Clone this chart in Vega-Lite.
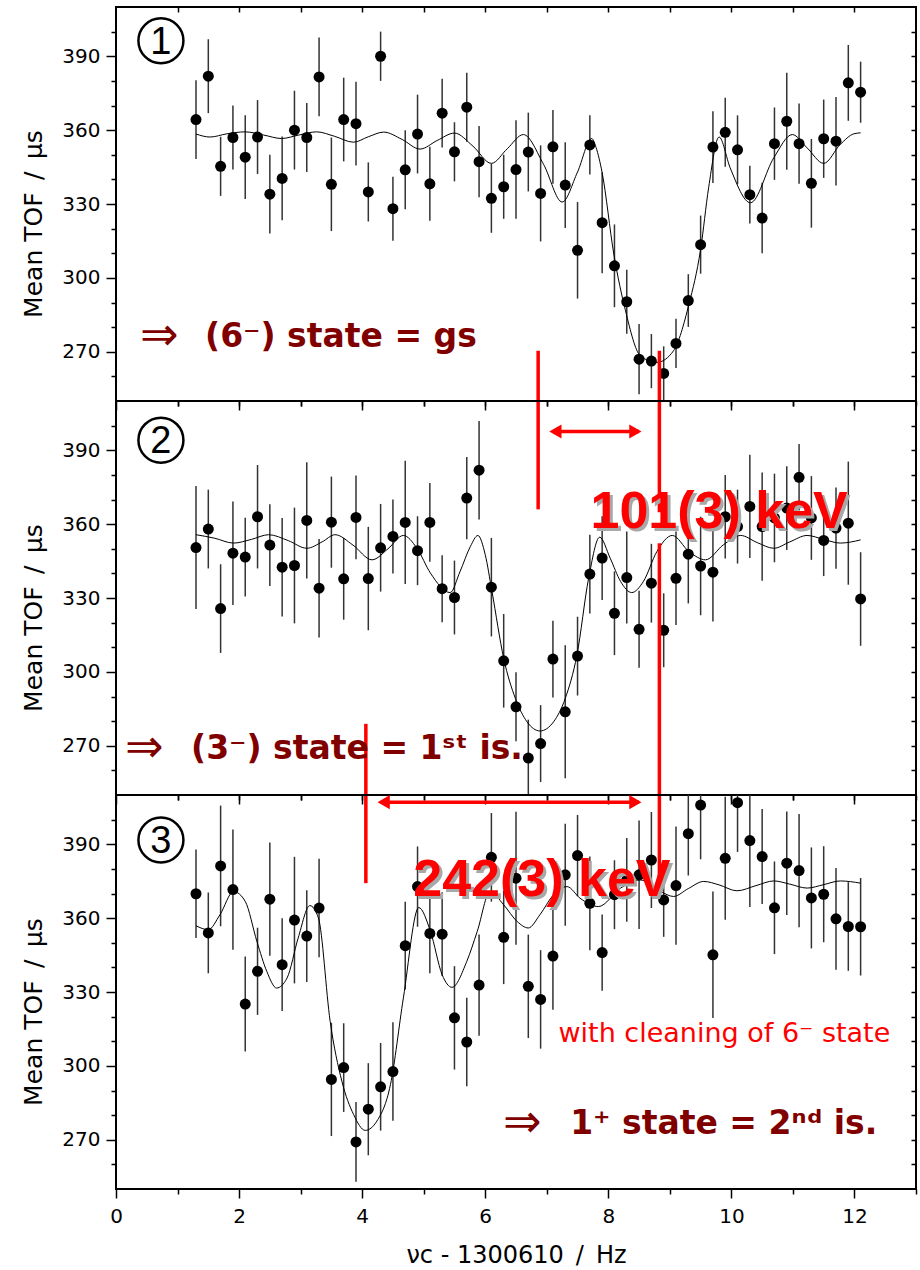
{
"$schema": "https://vega.github.io/schema/vega-lite/v6.json",
"background": "white",
"padding": {"left": 20, "top": 5, "right": 4, "bottom": 0},
"spacing": 0,
"bounds": "flush",
"config": {
  "view": {"stroke": "black", "strokeWidth": 2},
  "axis": {"domain": false, "grid": false, "tickColor": "black", "tickWidth": 1.5, "labelFont": "DejaVu Sans", "labelFontSize": 20, "labelColor": "black", "titleFont": "DejaVu Sans", "titleFontSize": 25, "titleFontWeight": "normal", "titleColor": "black", "labelFlush": false, "labelOverlap": false}
},
"datasets": {
  "pts": [
    {"panel":1,"x":1.3,"tof":364.3,"err":16},{"panel":1,"x":1.5,"tof":381.9,"err":15},{"panel":1,"x":1.7,"tof":345.3,"err":12},{"panel":1,"x":1.9,"tof":357.0,"err":13},{"panel":1,"x":2.1,"tof":349.0,"err":17},{"panel":1,"x":2.3,"tof":357.2,"err":15},{"panel":1,"x":2.5,"tof":334.0,"err":16},{"panel":1,"x":2.7,"tof":340.4,"err":17},{"panel":1,"x":2.9,"tof":360.0,"err":16},{"panel":1,"x":3.1,"tof":357.0,"err":14},{"panel":1,"x":3.3,"tof":381.6,"err":16},{"panel":1,"x":3.5,"tof":338.0,"err":19},{"panel":1,"x":3.7,"tof":364.3,"err":17},{"panel":1,"x":3.9,"tof":362.6,"err":17},{"panel":1,"x":4.1,"tof":334.9,"err":12},{"panel":1,"x":4.3,"tof":390.0,"err":10},{"panel":1,"x":4.5,"tof":328.1,"err":13},{"panel":1,"x":4.7,"tof":343.9,"err":16},{"panel":1,"x":4.9,"tof":358.4,"err":16},{"panel":1,"x":5.1,"tof":338.2,"err":15},{"panel":1,"x":5.3,"tof":366.9,"err":14},{"panel":1,"x":5.5,"tof":351.2,"err":12},{"panel":1,"x":5.7,"tof":369.3,"err":14},{"panel":1,"x":5.9,"tof":347.2,"err":14.5},{"panel":1,"x":6.1,"tof":332.3,"err":14},{"panel":1,"x":6.3,"tof":337.0,"err":13},{"panel":1,"x":6.5,"tof":344.0,"err":20},{"panel":1,"x":6.7,"tof":351.1,"err":16},{"panel":1,"x":6.9,"tof":334.3,"err":19.5},{"panel":1,"x":7.1,"tof":353.2,"err":15},{"panel":1,"x":7.3,"tof":337.7,"err":17.4},{"panel":1,"x":7.5,"tof":311.2,"err":19.6},{"panel":1,"x":7.7,"tof":354.0,"err":12},{"panel":1,"x":7.9,"tof":322.4,"err":20.5},{"panel":1,"x":8.1,"tof":304.9,"err":16.8},{"panel":1,"x":8.3,"tof":290.3,"err":13},{"panel":1,"x":8.5,"tof":267.0,"err":14.3},{"panel":1,"x":8.7,"tof":266.2,"err":11},{"panel":1,"x":8.9,"tof":261.2,"err":11},{"panel":1,"x":9.1,"tof":273.4,"err":10},{"panel":1,"x":9.3,"tof":290.8,"err":10.7},{"panel":1,"x":9.5,"tof":313.5,"err":11.8},{"panel":1,"x":9.7,"tof":353.1,"err":14.6},{"panel":1,"x":9.9,"tof":359.1,"err":14},{"panel":1,"x":10.1,"tof":352.0,"err":14},{"panel":1,"x":10.3,"tof":333.8,"err":11.7},{"panel":1,"x":10.5,"tof":324.3,"err":14.3},{"panel":1,"x":10.7,"tof":354.5,"err":14.7},{"panel":1,"x":10.9,"tof":363.6,"err":19.7},{"panel":1,"x":11.1,"tof":354.5,"err":16.3},{"panel":1,"x":11.3,"tof":338.4,"err":18},{"panel":1,"x":11.5,"tof":356.5,"err":15.9},{"panel":1,"x":11.7,"tof":355.5,"err":18},{"panel":1,"x":11.9,"tof":379.2,"err":15.4},{"panel":1,"x":12.1,"tof":375.4,"err":12.4},
    {"panel":2,"x":1.3,"tof":350.5,"err":25},{"panel":2,"x":1.5,"tof":358.0,"err":16},{"panel":2,"x":1.7,"tof":325.7,"err":18},{"panel":2,"x":1.9,"tof":348.2,"err":21},{"panel":2,"x":2.1,"tof":346.6,"err":16},{"panel":2,"x":2.3,"tof":363.0,"err":21},{"panel":2,"x":2.5,"tof":351.5,"err":16.6},{"panel":2,"x":2.7,"tof":342.5,"err":20},{"panel":2,"x":2.9,"tof":343.2,"err":23.5},{"panel":2,"x":3.1,"tof":361.5,"err":23.6},{"panel":2,"x":3.3,"tof":334.0,"err":20},{"panel":2,"x":3.5,"tof":360.8,"err":18.5},{"panel":2,"x":3.7,"tof":337.8,"err":16.6},{"panel":2,"x":3.9,"tof":362.7,"err":17},{"panel":2,"x":4.1,"tof":337.9,"err":21},{"panel":2,"x":4.3,"tof":350.4,"err":17.8},{"panel":2,"x":4.5,"tof":355.0,"err":15},{"panel":2,"x":4.7,"tof":360.7,"err":25},{"panel":2,"x":4.9,"tof":349.2,"err":14},{"panel":2,"x":5.1,"tof":360.7,"err":16},{"panel":2,"x":5.3,"tof":333.8,"err":13.6},{"panel":2,"x":5.5,"tof":330.2,"err":15},{"panel":2,"x":5.7,"tof":370.6,"err":16.7},{"panel":2,"x":5.9,"tof":381.9,"err":20},{"panel":2,"x":6.1,"tof":334.4,"err":20},{"panel":2,"x":6.3,"tof":304.5,"err":19},{"panel":2,"x":6.5,"tof":285.8,"err":14},{"panel":2,"x":6.7,"tof":265.0,"err":15.6},{"panel":2,"x":6.9,"tof":270.9,"err":15.6},{"panel":2,"x":7.1,"tof":305.2,"err":15.6},{"panel":2,"x":7.3,"tof":283.8,"err":27},{"panel":2,"x":7.5,"tof":306.4,"err":16},{"panel":2,"x":7.7,"tof":339.7,"err":16},{"panel":2,"x":7.9,"tof":346.2,"err":17},{"panel":2,"x":8.1,"tof":323.8,"err":17},{"panel":2,"x":8.3,"tof":338.3,"err":18.7},{"panel":2,"x":8.5,"tof":317.3,"err":15.6},{"panel":2,"x":8.7,"tof":336.0,"err":16},{"panel":2,"x":8.9,"tof":316.9,"err":15},{"panel":2,"x":9.1,"tof":338.0,"err":19},{"panel":2,"x":9.3,"tof":347.8,"err":20},{"panel":2,"x":9.5,"tof":343.0,"err":20},{"panel":2,"x":9.7,"tof":340.5,"err":20},{"panel":2,"x":9.9,"tof":363.0,"err":17},{"panel":2,"x":10.1,"tof":359.0,"err":15},{"panel":2,"x":10.3,"tof":367.2,"err":21},{"panel":2,"x":10.5,"tof":359.0,"err":22},{"panel":2,"x":10.7,"tof":362.5,"err":18},{"panel":2,"x":10.9,"tof":366.5,"err":17},{"panel":2,"x":11.1,"tof":379.0,"err":13.5},{"panel":2,"x":11.3,"tof":362.5,"err":17},{"panel":2,"x":11.5,"tof":353.4,"err":14.5},{"panel":2,"x":11.7,"tof":358.4,"err":16.5},{"panel":2,"x":11.9,"tof":360.4,"err":25},{"panel":2,"x":12.1,"tof":329.6,"err":19},
    {"panel":3,"x":1.3,"tof":369.9,"err":18},{"panel":3,"x":1.5,"tof":354.0,"err":16.4},{"panel":3,"x":1.7,"tof":381.2,"err":24.5},{"panel":3,"x":1.9,"tof":371.6,"err":24.4},{"panel":3,"x":2.1,"tof":325.1,"err":19.3},{"panel":3,"x":2.3,"tof":338.4,"err":17.7},{"panel":3,"x":2.5,"tof":367.7,"err":23},{"panel":3,"x":2.7,"tof":341.1,"err":18.8},{"panel":3,"x":2.9,"tof":359.2,"err":25.7},{"panel":3,"x":3.1,"tof":352.7,"err":18.6},{"panel":3,"x":3.3,"tof":364.1,"err":20},{"panel":3,"x":3.5,"tof":294.5,"err":23},{"panel":3,"x":3.7,"tof":299.3,"err":18},{"panel":3,"x":3.9,"tof":269.1,"err":16.2},{"panel":3,"x":4.1,"tof":282.4,"err":18.7},{"panel":3,"x":4.3,"tof":291.5,"err":17.8},{"panel":3,"x":4.5,"tof":297.7,"err":20},{"panel":3,"x":4.7,"tof":348.8,"err":17.8},{"panel":3,"x":4.9,"tof":372.8,"err":16.3},{"panel":3,"x":5.1,"tof":353.8,"err":16.2},{"panel":3,"x":5.3,"tof":353.5,"err":17},{"panel":3,"x":5.5,"tof":319.5,"err":21},{"panel":3,"x":5.7,"tof":309.7,"err":18},{"panel":3,"x":5.9,"tof":332.8,"err":20.6},{"panel":3,"x":6.1,"tof":384.7,"err":18},{"panel":3,"x":6.3,"tof":352.2,"err":19},{"panel":3,"x":6.5,"tof":376.2,"err":27},{"panel":3,"x":6.7,"tof":332.3,"err":21},{"panel":3,"x":6.9,"tof":327.0,"err":20},{"panel":3,"x":7.1,"tof":344.6,"err":21.8},{"panel":3,"x":7.3,"tof":377.6,"err":20.7},{"panel":3,"x":7.5,"tof":385.4,"err":16.5},{"panel":3,"x":7.7,"tof":366.0,"err":19},{"panel":3,"x":7.9,"tof":346.0,"err":15.5},{"panel":3,"x":8.1,"tof":369.5,"err":14},{"panel":3,"x":8.3,"tof":375.5,"err":17},{"panel":3,"x":8.5,"tof":377.6,"err":22},{"panel":3,"x":8.7,"tof":383.6,"err":19.5},{"panel":3,"x":8.9,"tof":367.4,"err":15},{"panel":3,"x":9.1,"tof":373.2,"err":24},{"panel":3,"x":9.3,"tof":394.3,"err":17},{"panel":3,"x":9.5,"tof":405.9,"err":22},{"panel":3,"x":9.7,"tof":345.1,"err":25.7},{"panel":3,"x":9.9,"tof":384.3,"err":25},{"panel":3,"x":10.1,"tof":406.9,"err":20},{"panel":3,"x":10.3,"tof":391.5,"err":27},{"panel":3,"x":10.5,"tof":385.0,"err":19.3},{"panel":3,"x":10.7,"tof":364.2,"err":18.8},{"panel":3,"x":10.9,"tof":382.3,"err":21},{"panel":3,"x":11.1,"tof":379.3,"err":23},{"panel":3,"x":11.3,"tof":368.2,"err":20.5},{"panel":3,"x":11.5,"tof":369.7,"err":19.5},{"panel":3,"x":11.7,"tof":359.7,"err":20.7},{"panel":3,"x":11.9,"tof":356.6,"err":18},{"panel":3,"x":12.1,"tof":356.5,"err":19.8}
  ],
  "fit": [
    {"panel":1,"x":1.3,"tof":358.4},{"panel":1,"x":1.53,"tof":357.2},{"panel":1,"x":1.8,"tof":358.5},{"panel":1,"x":2.1,"tof":359.3},{"panel":1,"x":2.4,"tof":358.0},{"panel":1,"x":2.69,"tof":356.6},{"panel":1,"x":2.97,"tof":358.0},{"panel":1,"x":3.26,"tof":359.3},{"panel":1,"x":3.55,"tof":357.5},{"panel":1,"x":3.86,"tof":355.1},{"panel":1,"x":4.1,"tof":357.3},{"panel":1,"x":4.35,"tof":359.2},{"panel":1,"x":4.65,"tof":356.2},{"panel":1,"x":4.94,"tof":352.3},{"panel":1,"x":5.22,"tof":355.8},{"panel":1,"x":5.5,"tof":358.8},{"panel":1,"x":5.8,"tof":353.5},{"panel":1,"x":6.1,"tof":346.5},{"panel":1,"x":6.36,"tof":352.5},{"panel":1,"x":6.62,"tof":358.2},{"panel":1,"x":6.95,"tof":346.0},{"panel":1,"x":7.25,"tof":330.8},{"panel":1,"x":7.5,"tof":343.0},{"panel":1,"x":7.73,"tof":356.6},{"panel":1,"x":7.8,"tof":353.0},{"panel":1,"x":7.9,"tof":342.7},{"panel":1,"x":8.09,"tof":309.6},{"panel":1,"x":8.28,"tof":286.6},{"panel":1,"x":8.52,"tof":268.4},{"panel":1,"x":8.79,"tof":265.7},{"panel":1,"x":9.06,"tof":270.4},{"panel":1,"x":9.31,"tof":289.3},{"panel":1,"x":9.5,"tof":311.6},{"panel":1,"x":9.63,"tof":336.6},{"panel":1,"x":9.8,"tof":357.2},{"panel":1,"x":9.98,"tof":344.7},{"panel":1,"x":10.31,"tof":330.5},{"panel":1,"x":10.69,"tof":348.8},{"panel":1,"x":10.99,"tof":358.2},{"panel":1,"x":11.23,"tof":352.8},{"panel":1,"x":11.5,"tof":346.5},{"panel":1,"x":11.77,"tof":354.2},{"panel":1,"x":11.99,"tof":358.5},{"panel":1,"x":12.1,"tof":358.9},
    {"panel":2,"x":1.3,"tof":355.7},{"panel":2,"x":1.6,"tof":354.3},{"panel":2,"x":1.91,"tof":352.3},{"panel":2,"x":2.2,"tof":353.8},{"panel":2,"x":2.48,"tof":355.7},{"panel":2,"x":2.8,"tof":353.3},{"panel":2,"x":3.1,"tof":350.2},{"panel":2,"x":3.35,"tof":352.8},{"panel":2,"x":3.56,"tof":355.7},{"panel":2,"x":3.85,"tof":351.5},{"panel":2,"x":4.16,"tof":345.5},{"panel":2,"x":4.42,"tof":350.0},{"panel":2,"x":4.67,"tof":355.4},{"panel":2,"x":4.89,"tof":350.2},{"panel":2,"x":5.11,"tof":340.1},{"panel":2,"x":5.43,"tof":332.2},{"panel":2,"x":5.59,"tof":340.7},{"panel":2,"x":5.76,"tof":351.0},{"panel":2,"x":5.88,"tof":355.4},{"panel":2,"x":6.0,"tof":347.6},{"panel":2,"x":6.11,"tof":332.6},{"panel":2,"x":6.3,"tof":305.5},{"panel":2,"x":6.49,"tof":289.2},{"panel":2,"x":6.68,"tof":279.7},{"panel":2,"x":6.89,"tof":276.0},{"panel":2,"x":7.11,"tof":279.7},{"panel":2,"x":7.3,"tof":289.2},{"panel":2,"x":7.49,"tof":306.8},{"panel":2,"x":7.68,"tof":338.0},{"panel":2,"x":7.86,"tof":354.7},{"panel":2,"x":8.03,"tof":346.2},{"panel":2,"x":8.2,"tof":336.7},{"panel":2,"x":8.38,"tof":332.2},{"panel":2,"x":8.57,"tof":336.7},{"panel":2,"x":8.79,"tof":348.9},{"panel":2,"x":9.04,"tof":355.4},{"panel":2,"x":9.31,"tof":348.9},{"panel":2,"x":9.58,"tof":345.5},{"panel":2,"x":9.87,"tof":351.6},{"panel":2,"x":10.15,"tof":355.4},{"panel":2,"x":10.42,"tof":352.5},{"panel":2,"x":10.69,"tof":350.2},{"panel":2,"x":10.95,"tof":352.8},{"panel":2,"x":11.23,"tof":355.4},{"panel":2,"x":11.5,"tof":353.8},{"panel":2,"x":11.77,"tof":352.3},{"panel":2,"x":12.1,"tof":353.6},
    {"panel":3,"x":1.3,"tof":356.9},{"panel":3,"x":1.5,"tof":355.3},{"panel":3,"x":1.69,"tof":361.4},{"panel":3,"x":1.91,"tof":370.8},{"panel":3,"x":2.1,"tof":366.8},{"panel":3,"x":2.29,"tof":350.5},{"panel":3,"x":2.45,"tof":338.4},{"panel":3,"x":2.61,"tof":331.6},{"panel":3,"x":2.78,"tof":335.7},{"panel":3,"x":2.96,"tof":351.9},{"panel":3,"x":3.15,"tof":365.1},{"panel":3,"x":3.29,"tof":360.0},{"panel":3,"x":3.48,"tof":318.1},{"panel":3,"x":3.67,"tof":293.8},{"panel":3,"x":3.86,"tof":280.3},{"panel":3,"x":4.05,"tof":273.8},{"panel":3,"x":4.24,"tof":277.6},{"panel":3,"x":4.46,"tof":292.4},{"panel":3,"x":4.67,"tof":327.6},{"panel":3,"x":4.92,"tof":364.3},{"panel":3,"x":5.11,"tof":354.6},{"panel":3,"x":5.3,"tof":337.0},{"panel":3,"x":5.46,"tof":331.9},{"panel":3,"x":5.7,"tof":342.4},{"panel":3,"x":5.87,"tof":354.6},{"panel":3,"x":6.08,"tof":370.8},{"panel":3,"x":6.3,"tof":365.4},{"panel":3,"x":6.52,"tof":358.6},{"panel":3,"x":6.7,"tof":356.0},{"panel":3,"x":6.89,"tof":361.4},{"panel":3,"x":7.11,"tof":369.5},{"panel":3,"x":7.33,"tof":372.8},{"panel":3,"x":7.54,"tof":368.1},{"panel":3,"x":7.84,"tof":364.7},{"panel":3,"x":8.2,"tof":372.2},{"panel":3,"x":8.52,"tof":375.5},{"panel":3,"x":8.85,"tof":370.8},{"panel":3,"x":9.06,"tof":368.8},{"panel":3,"x":9.3,"tof":372.0},{"panel":3,"x":9.55,"tof":374.9},{"panel":3,"x":9.8,"tof":373.5},{"panel":3,"x":10.09,"tof":371.1},{"panel":3,"x":10.4,"tof":373.2},{"panel":3,"x":10.69,"tof":375.1},{"panel":3,"x":10.95,"tof":373.8},{"panel":3,"x":11.23,"tof":372.2},{"panel":3,"x":11.5,"tof":373.6},{"panel":3,"x":11.77,"tof":375.1},{"panel":3,"x":12.1,"tof":374.2}
  ],
  "vlines": [
    {"panel":1,"x":6.86,"y":270.4,"y2":206.0},
    {"panel":1,"x":8.83,"y":270.4,"y2":204.8},
    {"panel":2,"x":8.83,"y":352.2,"y2":214.7},
    {"panel":2,"x":4.06,"y":278.9,"y2":214.2}
  ],
  "harrows": [
    {"panel":2,"x":7.1,"x2":8.5,"y":397.6},
    {"panel":3,"x":4.3,"x2":8.5,"y":407.1}
  ],
  "heads": [
    {"panel":2,"x":7.14,"y":397.6,"dir":"left"},
    {"panel":2,"x":8.44,"y":397.6,"dir":"right"},
    {"panel":3,"x":4.35,"y":407.1,"dir":"left"},
    {"panel":3,"x":8.44,"y":407.1,"dir":"right"}
  ],
  "tags": [
    {"panel":1,"x":0.73,"y":396.3,"label":"1"},
    {"panel":2,"x":0.73,"y":394.1,"label":"2"},
    {"panel":3,"x":0.73,"y":391.7,"label":"3"}
  ],
  "notes": [
    {"panel":1,"kind":"arrow","x":0.39,"y":271.8,"text":"⇒"},
    {"panel":1,"kind":"state","x":1.447,"y":271.8,"text":"(6⁻) state = gs"},
    {"panel":2,"kind":"arrow","x":0.146,"y":264.8,"text":"⇒"},
    {"panel":2,"kind":"state","x":1.22,"y":264.8,"text":"(3⁻) state = 1ˢᵗ is."},
    {"panel":2,"kind":"kev","x":7.71,"y":358.4,"text":"101(3) keV"},
    {"panel":3,"kind":"kev","x":4.83,"y":368.9,"text":"242(3) keV"},
    {"panel":3,"kind":"note","x":7.19,"y":309.5,"text":"with cleaning of 6⁻ state"},
    {"panel":3,"kind":"arrow","x":6.29,"y":272.3,"text":"⇒"},
    {"panel":3,"kind":"state","x":7.38,"y":272.3,"text":"1⁺ state = 2ⁿᵈ is."}
  ]
},
"vconcat": [
  {
    "width": 800, "height": 394,
    "resolve": {"axis": {"x": "independent", "y": "independent"}},
    "layer": [
      {"data": {"name": "pts"}, "transform": [{"filter": "datum.panel == 1"}],
       "mark": {"type": "errorbar", "color": "#333333", "thickness": 1.5, "clip": true},
       "encoding": {
         "x": {"field": "x", "type": "quantitative", "scale": {"domain": [0, 13], "nice": false, "zero": false}, "axis": {"orient": "bottom", "values": [1,3,5,7,9,11,13], "tickSize": 5, "labels": false, "title": null}},
         "y": {"field": "tof", "type": "quantitative", "scale": {"domain": [250, 410], "nice": false, "zero": false}, "axis": {"orient": "left", "values": [260,280,290,310,320,340,350,370,380,400], "tickSize": 5, "labels": false, "title": null}},
         "yError": {"field": "err"}}},
      {"data": {"name": "pts"}, "transform": [{"filter": "datum.panel == 1"}],
       "mark": {"type": "point", "filled": true, "color": "black", "size": 121, "opacity": 1},
       "encoding": {
         "x": {"field": "x", "type": "quantitative", "scale": {"domain": [0, 13], "nice": false, "zero": false}, "axis": {"orient": "bottom", "values": [0,2,4,6,8,10,12], "tickSize": 9, "labels": false, "title": null}},
         "y": {"field": "tof", "type": "quantitative", "scale": {"domain": [250, 410], "nice": false, "zero": false}, "axis": {"orient": "left", "values": [270,300,330,360,390], "tickSize": 10, "labelPadding": 6, "title": "Mean TOF\u2002/\u2002µs", "titleAngle": -90, "titleX": -75, "titleY": 216.5, "titleAlign": "center", "titleBaseline": "alphabetic"}}}},
      {"data": {"name": "fit"}, "transform": [{"filter": "datum.panel == 1"}],
       "mark": {"type": "line", "color": "black", "strokeWidth": 1, "interpolate": "monotone"},
       "encoding": {
         "x": {"field": "x", "type": "quantitative", "scale": {"domain": [0, 13], "nice": false, "zero": false}, "axis": {"orient": "top", "values": [1,2,3,4,5,6,7,8,9,10,11,12], "tickSize": -5, "labels": false, "title": null}},
         "y": {"field": "tof", "type": "quantitative", "scale": {"domain": [250, 410], "nice": false, "zero": false}, "axis": {"orient": "right", "values": [260,270,280,290,300,310,320,330,340,350,360,370,380,390,400], "tickSize": -5, "labels": false, "title": null}}}},
      {"data": {"name": "vlines"}, "transform": [{"filter": "datum.panel == 1"}],
       "mark": {"type": "rule", "color": "#ff0000", "strokeWidth": 3.5, "clip": false},
       "encoding": {
         "x": {"field": "x", "type": "quantitative", "scale": {"domain": [0, 13], "nice": false, "zero": false}, "axis": null},
         "y": {"field": "y", "type": "quantitative", "scale": {"domain": [250, 410], "nice": false, "zero": false}, "axis": null},
         "y2": {"field": "y2"}}},
      {"data": {"name": "tags"}, "transform": [{"filter": "datum.panel == 1"}],
       "mark": {"type": "point", "shape": "circle", "filled": false, "stroke": "black", "strokeWidth": 2.5, "size": 2025, "opacity": 1},
       "encoding": {
         "x": {"field": "x", "type": "quantitative", "scale": {"domain": [0, 13], "nice": false, "zero": false}, "axis": null},
         "y": {"field": "y", "type": "quantitative", "scale": {"domain": [250, 410], "nice": false, "zero": false}, "axis": null}}},
      {"data": {"name": "tags"}, "transform": [{"filter": "datum.panel == 1"}],
       "mark": {"type": "text", "font": "Liberation Sans", "fontSize": 38, "color": "black", "align": "center", "baseline": "middle", "dy": 2},
       "encoding": {
         "x": {"field": "x", "type": "quantitative", "scale": {"domain": [0, 13], "nice": false, "zero": false}, "axis": null},
         "y": {"field": "y", "type": "quantitative", "scale": {"domain": [250, 410], "nice": false, "zero": false}, "axis": null},
         "text": {"field": "label"}}},
      {"data": {"name": "notes"}, "transform": [{"filter": "datum.panel == 1 && datum.kind == 'arrow'"}],
       "mark": {"type": "text", "font": "DejaVu Sans", "fontSize": 46, "color": "#800000", "align": "left", "baseline": "alphabetic", "dy": 3},
       "encoding": {
         "x": {"field": "x", "type": "quantitative", "scale": {"domain": [0, 13], "nice": false, "zero": false}, "axis": null},
         "y": {"field": "y", "type": "quantitative", "scale": {"domain": [250, 410], "nice": false, "zero": false}, "axis": null},
         "text": {"field": "text"}}},
      {"data": {"name": "notes"}, "transform": [{"filter": "datum.panel == 1 && datum.kind == 'state'"}],
       "mark": {"type": "text", "font": "DejaVu Sans", "fontWeight": "bold", "fontSize": 33, "color": "#800000", "align": "left", "baseline": "alphabetic"},
       "encoding": {
         "x": {"field": "x", "type": "quantitative", "scale": {"domain": [0, 13], "nice": false, "zero": false}, "axis": null},
         "y": {"field": "y", "type": "quantitative", "scale": {"domain": [250, 410], "nice": false, "zero": false}, "axis": null},
         "text": {"field": "text"}}}
    ]
  },
  {
    "width": 800, "height": 394,
    "resolve": {"axis": {"x": "independent", "y": "independent"}},
    "layer": [
      {"data": {"name": "pts"}, "transform": [{"filter": "datum.panel == 2"}],
       "mark": {"type": "errorbar", "color": "#333333", "thickness": 1.5, "clip": true},
       "encoding": {
         "x": {"field": "x", "type": "quantitative", "scale": {"domain": [0, 13], "nice": false, "zero": false}, "axis": {"orient": "bottom", "values": [1,3,5,7,9,11,13], "tickSize": 5, "labels": false, "title": null}},
         "y": {"field": "tof", "type": "quantitative", "scale": {"domain": [250, 410], "nice": false, "zero": false}, "axis": {"orient": "left", "values": [260,280,290,310,320,340,350,370,380,400], "tickSize": 5, "labels": false, "title": null}},
         "yError": {"field": "err"}}},
      {"data": {"name": "pts"}, "transform": [{"filter": "datum.panel == 2"}],
       "mark": {"type": "point", "filled": true, "color": "black", "size": 121, "opacity": 1},
       "encoding": {
         "x": {"field": "x", "type": "quantitative", "scale": {"domain": [0, 13], "nice": false, "zero": false}, "axis": {"orient": "bottom", "values": [0,2,4,6,8,10,12], "tickSize": 9, "labels": false, "title": null}},
         "y": {"field": "tof", "type": "quantitative", "scale": {"domain": [250, 410], "nice": false, "zero": false}, "axis": {"orient": "left", "values": [270,300,330,360,390], "tickSize": 10, "labelPadding": 6, "title": "Mean TOF\u2002/\u2002µs", "titleAngle": -90, "titleX": -75, "titleY": 216.5, "titleAlign": "center", "titleBaseline": "alphabetic"}}}},
      {"data": {"name": "fit"}, "transform": [{"filter": "datum.panel == 2"}],
       "mark": {"type": "line", "color": "black", "strokeWidth": 1, "interpolate": "monotone"},
       "encoding": {
         "x": {"field": "x", "type": "quantitative", "scale": {"domain": [0, 13], "nice": false, "zero": false}, "axis": {"orient": "top", "values": [1,2,3,4,5,6,7,8,9,10,11,12], "tickSize": -5, "labels": false, "title": null}},
         "y": {"field": "tof", "type": "quantitative", "scale": {"domain": [250, 410], "nice": false, "zero": false}, "axis": {"orient": "right", "values": [260,270,280,290,300,310,320,330,340,350,360,370,380,390,400], "tickSize": -5, "labels": false, "title": null}}}},
      {"data": {"name": "vlines"}, "transform": [{"filter": "datum.panel == 2"}],
       "mark": {"type": "rule", "color": "#ff0000", "strokeWidth": 3.5, "clip": false},
       "encoding": {
         "x": {"field": "x", "type": "quantitative", "scale": {"domain": [0, 13], "nice": false, "zero": false}, "axis": null},
         "y": {"field": "y", "type": "quantitative", "scale": {"domain": [250, 410], "nice": false, "zero": false}, "axis": null},
         "y2": {"field": "y2"}}},
      {"data": {"name": "harrows"}, "transform": [{"filter": "datum.panel == 2"}],
       "mark": {"type": "rule", "color": "#ff0000", "strokeWidth": 3.5, "clip": false},
       "encoding": {
         "x": {"field": "x", "type": "quantitative", "scale": {"domain": [0, 13], "nice": false, "zero": false}, "axis": null},
         "x2": {"field": "x2"},
         "y": {"field": "y", "type": "quantitative", "scale": {"domain": [250, 410], "nice": false, "zero": false}, "axis": null}}},
      {"data": {"name": "heads"}, "transform": [{"filter": "datum.panel == 2"}],
       "mark": {"type": "point", "filled": true, "color": "#ff0000", "size": 200, "opacity": 1, "clip": false},
       "encoding": {
         "x": {"field": "x", "type": "quantitative", "scale": {"domain": [0, 13], "nice": false, "zero": false}, "axis": null},
         "y": {"field": "y", "type": "quantitative", "scale": {"domain": [250, 410], "nice": false, "zero": false}, "axis": null},
         "shape": {"field": "dir", "type": "nominal", "scale": {"domain": ["left", "right"], "range": ["triangle-left", "triangle-right"]}, "legend": null}}},
      {"data": {"name": "tags"}, "transform": [{"filter": "datum.panel == 2"}],
       "mark": {"type": "point", "shape": "circle", "filled": false, "stroke": "black", "strokeWidth": 2.5, "size": 2025, "opacity": 1},
       "encoding": {
         "x": {"field": "x", "type": "quantitative", "scale": {"domain": [0, 13], "nice": false, "zero": false}, "axis": null},
         "y": {"field": "y", "type": "quantitative", "scale": {"domain": [250, 410], "nice": false, "zero": false}, "axis": null}}},
      {"data": {"name": "tags"}, "transform": [{"filter": "datum.panel == 2"}],
       "mark": {"type": "text", "font": "Liberation Sans", "fontSize": 38, "color": "black", "align": "center", "baseline": "middle", "dy": 2},
       "encoding": {
         "x": {"field": "x", "type": "quantitative", "scale": {"domain": [0, 13], "nice": false, "zero": false}, "axis": null},
         "y": {"field": "y", "type": "quantitative", "scale": {"domain": [250, 410], "nice": false, "zero": false}, "axis": null},
         "text": {"field": "label"}}},
      {"data": {"name": "notes"}, "transform": [{"filter": "datum.panel == 2 && datum.kind == 'arrow'"}],
       "mark": {"type": "text", "font": "DejaVu Sans", "fontSize": 46, "color": "#800000", "align": "left", "baseline": "alphabetic", "dy": 3},
       "encoding": {
         "x": {"field": "x", "type": "quantitative", "scale": {"domain": [0, 13], "nice": false, "zero": false}, "axis": null},
         "y": {"field": "y", "type": "quantitative", "scale": {"domain": [250, 410], "nice": false, "zero": false}, "axis": null},
         "text": {"field": "text"}}},
      {"data": {"name": "notes"}, "transform": [{"filter": "datum.panel == 2 && datum.kind == 'state'"}],
       "mark": {"type": "text", "font": "DejaVu Sans", "fontWeight": "bold", "fontSize": 33, "color": "#800000", "align": "left", "baseline": "alphabetic"},
       "encoding": {
         "x": {"field": "x", "type": "quantitative", "scale": {"domain": [0, 13], "nice": false, "zero": false}, "axis": null},
         "y": {"field": "y", "type": "quantitative", "scale": {"domain": [250, 410], "nice": false, "zero": false}, "axis": null},
         "text": {"field": "text"}}},
      {"data": {"name": "notes"}, "transform": [{"filter": "datum.panel == 2 && datum.kind == 'kev'"}],
       "mark": {"type": "text", "font": "Liberation Sans", "fontWeight": "bold", "fontSize": 52, "color": "#a8a8a8", "align": "left", "baseline": "alphabetic", "dx": 3, "dy": 3},
       "encoding": {
         "x": {"field": "x", "type": "quantitative", "scale": {"domain": [0, 13], "nice": false, "zero": false}, "axis": null},
         "y": {"field": "y", "type": "quantitative", "scale": {"domain": [250, 410], "nice": false, "zero": false}, "axis": null},
         "text": {"field": "text"}}},
      {"data": {"name": "notes"}, "transform": [{"filter": "datum.panel == 2 && datum.kind == 'kev'"}],
       "mark": {"type": "text", "font": "Liberation Sans", "fontWeight": "bold", "fontSize": 52, "color": "#ff0000", "align": "left", "baseline": "alphabetic"},
       "encoding": {
         "x": {"field": "x", "type": "quantitative", "scale": {"domain": [0, 13], "nice": false, "zero": false}, "axis": null},
         "y": {"field": "y", "type": "quantitative", "scale": {"domain": [250, 410], "nice": false, "zero": false}, "axis": null},
         "text": {"field": "text"}}}
    ]
  },
  {
    "width": 800, "height": 394,
    "resolve": {"axis": {"x": "independent", "y": "independent"}},
    "layer": [
      {"data": {"name": "pts"}, "transform": [{"filter": "datum.panel == 3"}],
       "mark": {"type": "errorbar", "color": "#333333", "thickness": 1.5, "clip": true},
       "encoding": {
         "x": {"field": "x", "type": "quantitative", "scale": {"domain": [0, 13], "nice": false, "zero": false}, "axis": {"orient": "bottom", "values": [1,3,5,7,9,11,13], "tickSize": 5, "labels": false, "title": null}},
         "y": {"field": "tof", "type": "quantitative", "scale": {"domain": [250, 410], "nice": false, "zero": false}, "axis": {"orient": "left", "values": [260,280,290,310,320,340,350,370,380,400], "tickSize": 5, "labels": false, "title": null}},
         "yError": {"field": "err"}}},
      {"data": {"name": "pts"}, "transform": [{"filter": "datum.panel == 3"}],
       "mark": {"type": "point", "filled": true, "color": "black", "size": 121, "opacity": 1},
       "encoding": {
         "x": {"field": "x", "type": "quantitative", "scale": {"domain": [0, 13], "nice": false, "zero": false}, "axis": {"orient": "bottom", "values": [0,2,4,6,8,10,12], "tickSize": 9, "labelPadding": 8, "title": "νc - 1300610\u2002/\u2002Hz", "titleFontSize": 24, "titleY": 73, "titleBaseline": "alphabetic"}},
         "y": {"field": "tof", "type": "quantitative", "scale": {"domain": [250, 410], "nice": false, "zero": false}, "axis": {"orient": "left", "values": [270,300,330,360,390], "tickSize": 10, "labelPadding": 6, "title": "Mean TOF\u2002/\u2002µs", "titleAngle": -90, "titleX": -75, "titleY": 216.5, "titleAlign": "center", "titleBaseline": "alphabetic"}}}},
      {"data": {"name": "fit"}, "transform": [{"filter": "datum.panel == 3"}],
       "mark": {"type": "line", "color": "black", "strokeWidth": 1, "interpolate": "monotone"},
       "encoding": {
         "x": {"field": "x", "type": "quantitative", "scale": {"domain": [0, 13], "nice": false, "zero": false}, "axis": {"orient": "top", "values": [1,2,3,4,5,6,7,8,9,10,11,12], "tickSize": -5, "labels": false, "title": null}},
         "y": {"field": "tof", "type": "quantitative", "scale": {"domain": [250, 410], "nice": false, "zero": false}, "axis": {"orient": "right", "values": [260,270,280,290,300,310,320,330,340,350,360,370,380,390,400], "tickSize": -5, "labels": false, "title": null}}}},
      {"data": {"name": "harrows"}, "transform": [{"filter": "datum.panel == 3"}],
       "mark": {"type": "rule", "color": "#ff0000", "strokeWidth": 3.5, "clip": false},
       "encoding": {
         "x": {"field": "x", "type": "quantitative", "scale": {"domain": [0, 13], "nice": false, "zero": false}, "axis": null},
         "x2": {"field": "x2"},
         "y": {"field": "y", "type": "quantitative", "scale": {"domain": [250, 410], "nice": false, "zero": false}, "axis": null}}},
      {"data": {"name": "heads"}, "transform": [{"filter": "datum.panel == 3"}],
       "mark": {"type": "point", "filled": true, "color": "#ff0000", "size": 200, "opacity": 1, "clip": false},
       "encoding": {
         "x": {"field": "x", "type": "quantitative", "scale": {"domain": [0, 13], "nice": false, "zero": false}, "axis": null},
         "y": {"field": "y", "type": "quantitative", "scale": {"domain": [250, 410], "nice": false, "zero": false}, "axis": null},
         "shape": {"field": "dir", "type": "nominal", "scale": {"domain": ["left", "right"], "range": ["triangle-left", "triangle-right"]}, "legend": null}}},
      {"data": {"name": "tags"}, "transform": [{"filter": "datum.panel == 3"}],
       "mark": {"type": "point", "shape": "circle", "filled": false, "stroke": "black", "strokeWidth": 2.5, "size": 2025, "opacity": 1},
       "encoding": {
         "x": {"field": "x", "type": "quantitative", "scale": {"domain": [0, 13], "nice": false, "zero": false}, "axis": null},
         "y": {"field": "y", "type": "quantitative", "scale": {"domain": [250, 410], "nice": false, "zero": false}, "axis": null}}},
      {"data": {"name": "tags"}, "transform": [{"filter": "datum.panel == 3"}],
       "mark": {"type": "text", "font": "Liberation Sans", "fontSize": 38, "color": "black", "align": "center", "baseline": "middle", "dy": 2},
       "encoding": {
         "x": {"field": "x", "type": "quantitative", "scale": {"domain": [0, 13], "nice": false, "zero": false}, "axis": null},
         "y": {"field": "y", "type": "quantitative", "scale": {"domain": [250, 410], "nice": false, "zero": false}, "axis": null},
         "text": {"field": "label"}}},
      {"data": {"name": "notes"}, "transform": [{"filter": "datum.panel == 3 && datum.kind == 'arrow'"}],
       "mark": {"type": "text", "font": "DejaVu Sans", "fontSize": 46, "color": "#800000", "align": "left", "baseline": "alphabetic", "dy": 3},
       "encoding": {
         "x": {"field": "x", "type": "quantitative", "scale": {"domain": [0, 13], "nice": false, "zero": false}, "axis": null},
         "y": {"field": "y", "type": "quantitative", "scale": {"domain": [250, 410], "nice": false, "zero": false}, "axis": null},
         "text": {"field": "text"}}},
      {"data": {"name": "notes"}, "transform": [{"filter": "datum.panel == 3 && datum.kind == 'state'"}],
       "mark": {"type": "text", "font": "DejaVu Sans", "fontWeight": "bold", "fontSize": 33, "color": "#800000", "align": "left", "baseline": "alphabetic"},
       "encoding": {
         "x": {"field": "x", "type": "quantitative", "scale": {"domain": [0, 13], "nice": false, "zero": false}, "axis": null},
         "y": {"field": "y", "type": "quantitative", "scale": {"domain": [250, 410], "nice": false, "zero": false}, "axis": null},
         "text": {"field": "text"}}},
      {"data": {"name": "notes"}, "transform": [{"filter": "datum.panel == 3 && datum.kind == 'note'"}],
       "mark": {"type": "text", "font": "DejaVu Sans", "fontSize": 27, "color": "#ff0000", "align": "left", "baseline": "alphabetic"},
       "encoding": {
         "x": {"field": "x", "type": "quantitative", "scale": {"domain": [0, 13], "nice": false, "zero": false}, "axis": null},
         "y": {"field": "y", "type": "quantitative", "scale": {"domain": [250, 410], "nice": false, "zero": false}, "axis": null},
         "text": {"field": "text"}}},
      {"data": {"name": "notes"}, "transform": [{"filter": "datum.panel == 3 && datum.kind == 'kev'"}],
       "mark": {"type": "text", "font": "Liberation Sans", "fontWeight": "bold", "fontSize": 52, "color": "#a8a8a8", "align": "left", "baseline": "alphabetic", "dx": 3, "dy": 3},
       "encoding": {
         "x": {"field": "x", "type": "quantitative", "scale": {"domain": [0, 13], "nice": false, "zero": false}, "axis": null},
         "y": {"field": "y", "type": "quantitative", "scale": {"domain": [250, 410], "nice": false, "zero": false}, "axis": null},
         "text": {"field": "text"}}},
      {"data": {"name": "notes"}, "transform": [{"filter": "datum.panel == 3 && datum.kind == 'kev'"}],
       "mark": {"type": "text", "font": "Liberation Sans", "fontWeight": "bold", "fontSize": 52, "color": "#ff0000", "align": "left", "baseline": "alphabetic"},
       "encoding": {
         "x": {"field": "x", "type": "quantitative", "scale": {"domain": [0, 13], "nice": false, "zero": false}, "axis": null},
         "y": {"field": "y", "type": "quantitative", "scale": {"domain": [250, 410], "nice": false, "zero": false}, "axis": null},
         "text": {"field": "text"}}}
    ]
  }
]
}
